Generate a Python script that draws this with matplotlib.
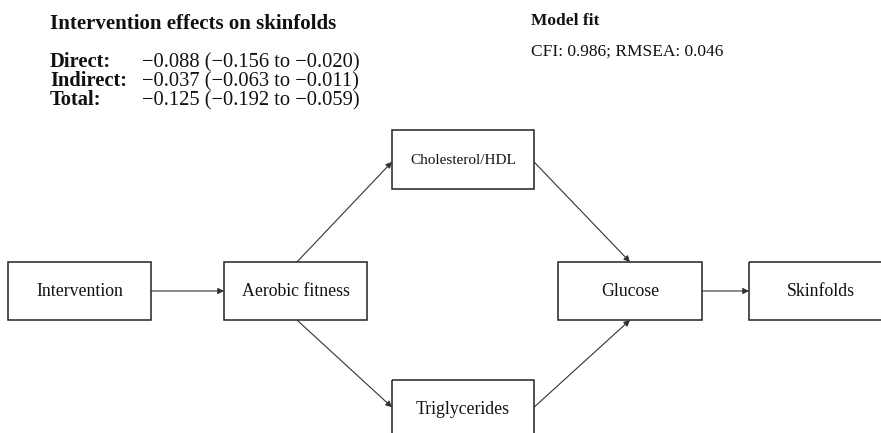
import matplotlib.pyplot as plt
from matplotlib.patches import Rectangle

# path model content
nodes = ["Intervention", "Aerobic fitness", "Cholesterol/HDL", "Triglycerides", "Glucose", "Skinfolds"]
edges = [("Intervention", "Aerobic fitness"),
         ("Aerobic fitness", "Cholesterol/HDL"),
         ("Aerobic fitness", "Triglycerides"),
         ("Cholesterol/HDL", "Glucose"),
         ("Triglycerides", "Glucose"),
         ("Glucose", "Skinfolds")]

effect_names = ["Direct:", "Indirect:", "Total:"]
effect_est = [-0.088, -0.037, -0.125]
effect_lo = [-0.156, -0.063, -0.192]
effect_hi = [-0.020, -0.011, -0.059]

cfi = 0.986
rmsea = 0.046

# layout (pixel coords, y down): x0, y0, width, height
box = {
    "Intervention": (8, 262, 143, 58),
    "Aerobic fitness": (224, 262, 143, 58),
    "Cholesterol/HDL": (392, 130, 142, 59),
    "Triglycerides": (392, 380, 142, 58),
    "Glucose": (558, 262, 144, 58),
    "Skinfolds": (749, 262, 143, 58),
}
label_size = {"Cholesterol/HDL": 11}

plt.rcParams['font.family'] = ['Liberation Serif', 'DejaVu Serif']

fig = plt.figure(figsize=(8.81, 4.33), dpi=100)
ax = fig.add_axes([0, 0, 1, 1])
ax.set_xlim(0, 881)
ax.set_ylim(433, 0)
ax.axis("off")

for n in nodes:
    x0, y0, w, h = box[n]
    ax.add_patch(Rectangle((x0, y0), w, h, fill=False, edgecolor="#222222", linewidth=1.1))
    ax.text(x0 + w / 2, y0 + h / 2 + 1, n, ha="center", va="center",
            fontsize=label_size.get(n, 12.8), color="#111111")


def anchor(n, side):
    x0, y0, w, h = box[n]
    if side == "right":
        return x0 + w, y0 + h / 2
    if side == "left":
        return x0, y0 + h / 2
    if side == "top":
        return x0 + w / 2, y0
    return x0 + w / 2, y0 + h


for a, b in edges:
    ax_, ay_, aw, ah = box[a]
    bx_, by_, bw, bh = box[b]
    if abs((ay_ + ah / 2) - (by_ + bh / 2)) < 5:
        start = anchor(a, "right")
        end = anchor(b, "left")
    elif by_ < ay_:
        # going up
        if b in ("Cholesterol/HDL",):
            start = (ax_ + 0.51 * aw, ay_)
            end = (bx_, by_ + 0.54 * bh)
        else:
            start = (ax_ + aw, ay_ + 0.47 * ah)
            end = (bx_ + 0.5 * bw, by_ + bh)
    else:
        if b in ("Triglycerides",):
            start = (ax_ + 0.51 * aw, ay_ + ah)
            end = (bx_, by_ + 0.47 * bh)
        else:
            start = (ax_ + aw, ay_ + 0.54 * ah)
            end = (bx_ + 0.5 * bw, by_)
    ax.annotate("", xy=end, xytext=start,
                arrowprops=dict(arrowstyle="-|>", color="#333333", lw=0.8,
                                mutation_scale=9, shrinkA=0, shrinkB=0))

# effects text block
ax.text(50, 29, "Intervention effects on skinfolds", fontsize=15, fontweight="bold",
        ha="left", va="baseline", color="#111111")
for i, (name, est, lo, hi) in enumerate(zip(effect_names, effect_est, effect_lo, effect_hi)):
    y = 67 + i * 19
    ax.text(50, y, name, fontsize=14.8, fontweight="bold", ha="left", va="baseline", color="#111111")
    val = f"{est:.3f} ({lo:.3f} to {hi:.3f})".replace("-", "\u2212")
    ax.text(142, y, val, fontsize=14.8, ha="left", va="baseline", color="#111111")

ax.text(531, 25, "Model fit", fontsize=12.5, fontweight="bold", ha="left", va="baseline", color="#111111")
ax.text(531, 56, f"CFI: {cfi:.3f}; RMSEA: {rmsea:.3f}", fontsize=12.5, ha="left", va="baseline",
        color="#111111")

fig.savefig("out.png", dpi=100)
